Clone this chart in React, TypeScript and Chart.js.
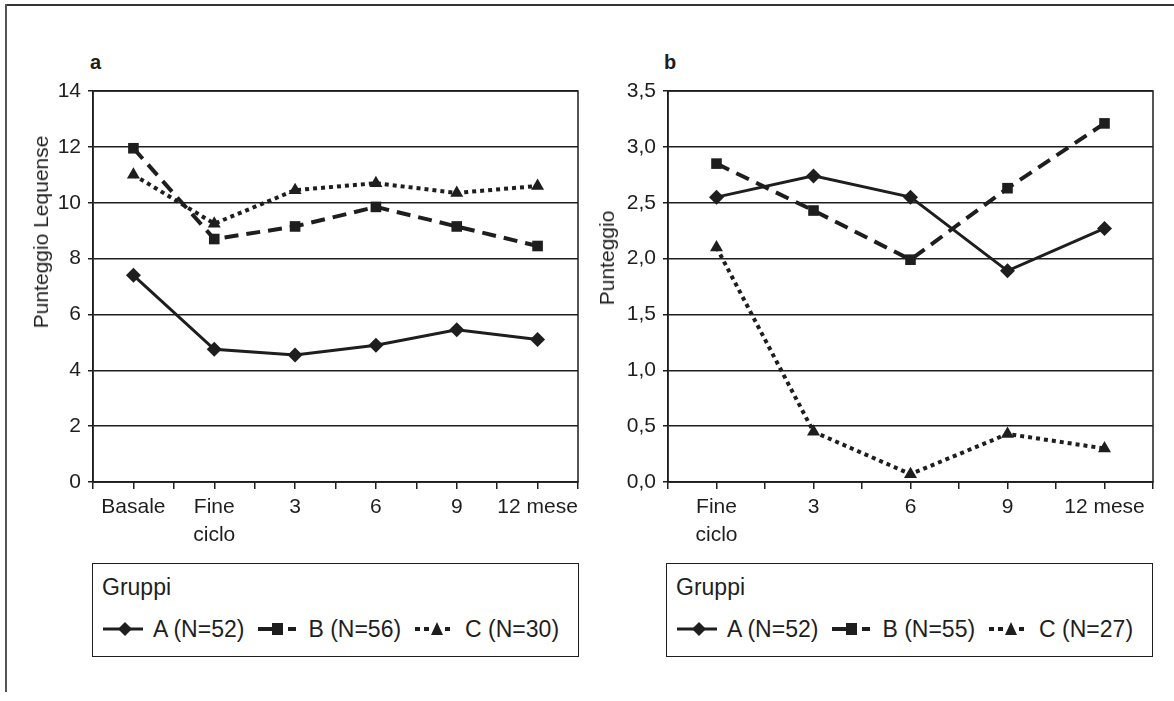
import React, { useEffect, useRef } from 'react';
import { Chart, registerables } from 'chart.js';

Chart.register(...registerables);

const FONT = '"Liberation Sans", Arial, Helvetica, sans-serif';
const INK = '#1e1e1e';

// ---- Data ----
const categoriesLeft: (string | string[])[] = ['Basale', ['Fine', 'ciclo'], '3', '6', '9', '12 mese'];
const categoriesRight: (string | string[])[] = [['Fine', 'ciclo'], '3', '6', '9', '12 mese'];

const leftA = [7.4, 4.75, 4.55, 4.9, 5.45, 5.1];
const leftB = [11.95, 8.7, 9.15, 9.85, 9.15, 8.45];
const leftC = [11.0, 9.25, 10.45, 10.7, 10.35, 10.6];

const rightA = [2.55, 2.74, 2.55, 1.89, 2.27];
const rightB = [2.85, 2.43, 1.99, 2.63, 3.21];
const rightC = [2.1, 0.45, 0.07, 0.43, 0.3];

const legendLeft = ['A (N=52)', 'B (N=56)', 'C (N=30)'];
const legendRight = ['A (N=52)', 'B (N=55)', 'C (N=27)'];

const yLeftMax = 14;
const yLeftStep = 2;
const yRightMax = 3.5;
const yRightStep = 0.5;

const yTitleLeft = 'Punteggio Lequense';
const yTitleRight = 'Punteggio';

// ---- Chart helpers ----
const framePlugin = {
  id: 'frame',
  beforeDatasetsDraw(chart: any) {
    const { ctx, chartArea } = chart;
    const { left, top, right, bottom } = chartArea;
    ctx.save();
    ctx.strokeStyle = INK;
    ctx.lineWidth = 1.5;
    ctx.strokeRect(left, top, right - left, bottom - top);
    ctx.restore();
  },
};

const seriesStyles = [
  { pointStyle: 'rectRot', borderDash: [] as number[], borderWidth: 3, pointRadius: 7.5 },
  { pointStyle: 'rect', borderDash: [14, 8], borderWidth: 4, pointRadius: 7.5 },
  { pointStyle: 'triangle', borderDash: [4, 4], borderWidth: 4, pointRadius: 7.5 },
];

function makeConfig(
  categories: (string | string[])[],
  series: number[][],
  names: string[],
  yMax: number,
  yStep: number,
  decimals: number,
  yWidth: number,
  padRight: number
) {
  const n = categories.length;
  const xTicks: number[] = [];
  for (let k = 0; k <= 2 * n; k++) xTicks.push(-0.5 + k * 0.5);
  return {
    type: 'line' as const,
    data: {
      datasets: series.map((vals, si) => ({
        label: names[si],
        data: vals.map((v, i) => ({ x: i, y: v })),
        borderColor: INK,
        backgroundColor: INK,
        pointBackgroundColor: INK,
        pointBorderColor: INK,
        pointBorderWidth: 0,
        borderCapStyle: 'butt' as const,
        tension: 0,
        fill: false,
        ...seriesStyles[si],
      })),
    },
    options: {
      animation: false as const,
      responsive: false,
      devicePixelRatio: 1,
      layout: { padding: { top: 21, right: padRight, left: 0, bottom: 0 }, autoPadding: false },
      plugins: {
        legend: { display: false },
        tooltip: { enabled: false },
      },
      scales: {
        x: {
          type: 'linear' as const,
          min: -0.5,
          max: n - 0.5,
          afterBuildTicks: (scale: any) => {
            scale.ticks = xTicks.map((v) => ({ value: v }));
          },
          afterFit: (scale: any) => {
            scale.height = 78;
          },
          ticks: {
            autoSkip: false,
            maxRotation: 0,
            minRotation: 0,
            padding: 5,
            color: INK,
            font: { family: FONT, size: 21, lineHeight: 1.3 },
            callback: (v: number) => (Number.isInteger(v) ? categories[v] : ''),
          },
          grid: { drawOnChartArea: false, drawTicks: true, tickLength: 7, color: INK, lineWidth: 1.5 },
          border: { display: true, color: INK, width: 1.5 },
        },
        y: {
          min: 0,
          max: yMax,
          afterFit: (scale: any) => {
            scale.width = yWidth;
          },
          ticks: {
            stepSize: yStep,
            padding: 7,
            color: INK,
            font: { family: FONT, size: 21 },
            callback: (v: number) => v.toFixed(decimals).replace('.', ','),
          },
          grid: { color: INK, lineWidth: 1.5, drawTicks: true, tickLength: 5 },
          border: { display: true, color: INK, width: 1.5 },
        },
      },
    },
    plugins: [framePlugin],
  };
}

function LineChart(props: {
  left: number;
  top: number;
  width: number;
  height: number;
  config: any;
}) {
  const ref = useRef<HTMLCanvasElement>(null);
  useEffect(() => {
    if (!ref.current) return;
    const chart = new Chart(ref.current, props.config);
    return () => chart.destroy();
  }, []);
  return (
    <canvas
      ref={ref}
      width={props.width}
      height={props.height}
      style={{ position: 'absolute', left: props.left, top: props.top, width: props.width, height: props.height }}
    />
  );
}

function Symbol({ kind }: { kind: number }) {
  if (kind === 0) {
    return (
      <svg width={42} height={22} style={{ display: 'block' }}>
        <line x1={0} y1={11} x2={40} y2={11} stroke={INK} strokeWidth={3} />
        <polygon points="22,4 29,11 22,18 15,11" fill={INK} />
      </svg>
    );
  }
  if (kind === 1) {
    return (
      <svg width={42} height={22} style={{ display: 'block' }}>
        <line x1={0} y1={11} x2={14} y2={11} stroke={INK} strokeWidth={4} />
        <rect x={14} y={5} width={11} height={12} fill={INK} />
        <line x1={30} y1={11} x2={38} y2={11} stroke={INK} strokeWidth={4} />
      </svg>
    );
  }
  return (
    <svg width={42} height={22} style={{ display: 'block' }}>
      <line x1={0} y1={11} x2={5} y2={11} stroke={INK} strokeWidth={4} />
      <line x1={9} y1={11} x2={14} y2={11} stroke={INK} strokeWidth={4} />
      <polygon points="22,4 28,17 16,17" fill={INK} />
      <line x1={30} y1={11} x2={35} y2={11} stroke={INK} strokeWidth={4} />
    </svg>
  );
}

function LegendBox({ left, width, names }: { left: number; width: number; names: string[] }) {
  return (
    <div
      style={{
        position: 'absolute',
        left,
        top: 563,
        width,
        height: 94,
        border: `1.5px solid ${INK}`,
        boxSizing: 'border-box',
        fontFamily: FONT,
        fontSize: 23,
        color: INK,
        lineHeight: '26px',
      }}
    >
      <div style={{ position: 'absolute', left: 9, top: 10 }}>Gruppi</div>
      <div
        style={{
          position: 'absolute',
          left: 10,
          top: 52,
          display: 'flex',
          alignItems: 'center',
          whiteSpace: 'nowrap',
        }}
      >
        {names.map((nm, i) => (
          <React.Fragment key={i}>
            <div style={{ marginRight: 8 }}>
              <Symbol kind={i} />
            </div>
            <span style={{ marginRight: 14 }}>{nm}</span>
          </React.Fragment>
        ))}
      </div>
    </div>
  );
}

function AxisTitle({ x, y, text }: { x: number; y: number; text: string }) {
  return (
    <div
      style={{
        position: 'absolute',
        left: x,
        top: y,
        transform: 'translate(-50%, -50%) rotate(-90deg)',
        whiteSpace: 'nowrap',
        fontFamily: FONT,
        fontSize: 21,
        color: INK,
        lineHeight: '24px',
      }}
    >
      {text}
    </div>
  );
}

export default function App() {
  const leftConfig = makeConfig(categoriesLeft, [leftA, leftB, leftC], legendLeft, yLeftMax, yLeftStep, 0, 93, 12);
  const rightConfig = makeConfig(categoriesRight, [rightA, rightB, rightC], legendRight, yRightMax, yRightStep, 1, 78, 21);
  return (
    <div
      style={{
        position: 'absolute',
        left: 0,
        top: 0,
        width: 1174,
        height: 701,
        background: '#fff',
        overflow: 'hidden',
      }}
    >
      <div style={{ position: 'absolute', left: 5, top: 4, width: 1169, height: 0, borderTop: '2px solid #333' }} />
      <div style={{ position: 'absolute', left: 5, top: 4, width: 0, height: 688, borderLeft: '2px solid #555' }} />

      <div style={{ position: 'absolute', left: 90, top: 51, fontFamily: FONT, fontWeight: 'bold', fontSize: 20, color: INK }}>a</div>
      <div style={{ position: 'absolute', left: 664, top: 51, fontFamily: FONT, fontWeight: 'bold', fontSize: 20, color: INK }}>b</div>

      <LineChart left={0} top={70} width={590} height={490} config={leftConfig} />
      <LineChart left={590} top={70} width={584} height={490} config={rightConfig} />

      <AxisTitle x={41} y={232} text={yTitleLeft} />
      <AxisTitle x={607} y={258} text={yTitleRight} />

      <LegendBox left={92} width={487} names={legendLeft} />
      <LegendBox left={666} width={487} names={legendRight} />
    </div>
  );
}
